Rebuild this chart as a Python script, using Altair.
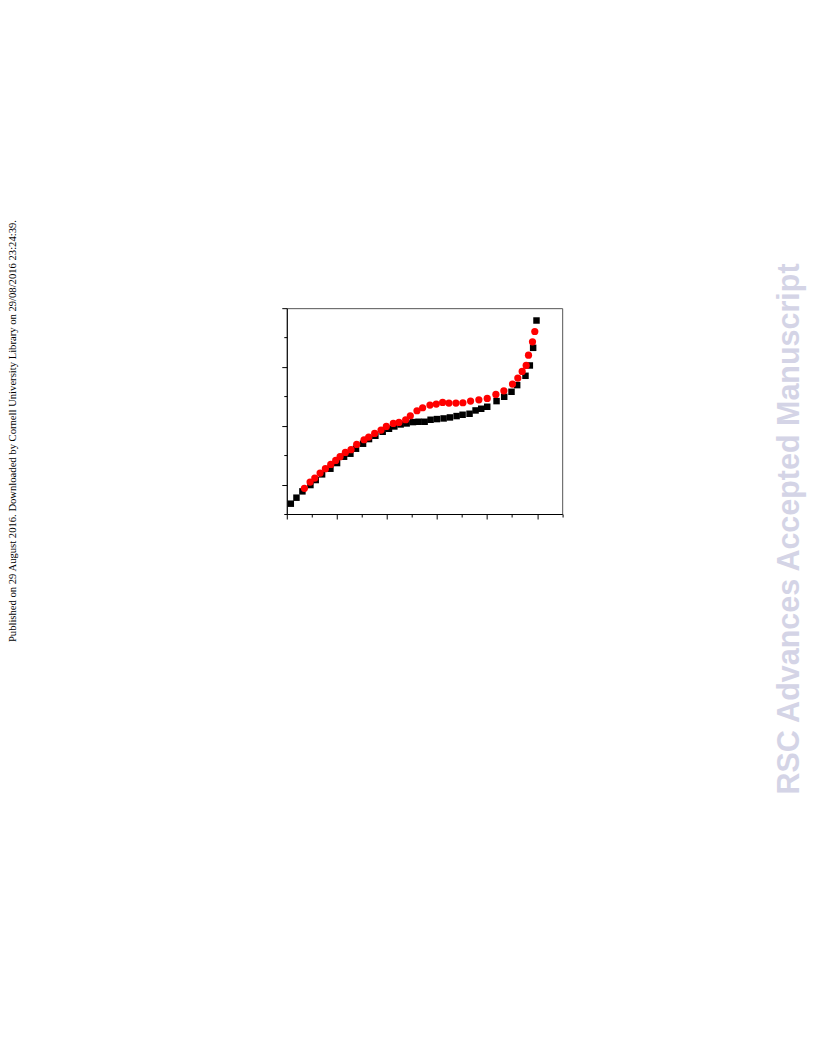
import altair as alt
import pandas as pd

# Black squares series
sq_x = [0.80, 1.93, 3.12, 4.72, 5.78, 7.05, 8.71, 10.04, 11.44, 12.70,
        13.83, 15.23, 16.42, 17.69, 19.15, 20.41, 21.48, 22.74, 23.94, 25.20,
        26.33, 27.53, 28.72, 29.99, 31.32, 32.58, 33.91, 35.11, 36.50, 37.70,
        38.83, 40.03, 41.89, 43.42, 44.88, 46.01, 47.67, 48.54, 49.20, 49.87]
sq_y = [0.351, 0.555, 0.770, 0.985, 1.155, 1.348, 1.540, 1.733, 1.948, 2.050,
        2.220, 2.390, 2.548, 2.661, 2.797, 2.899, 2.978, 3.046, 3.080, 3.126,
        3.137, 3.137, 3.205, 3.228, 3.250, 3.284, 3.330, 3.375, 3.409, 3.522,
        3.579, 3.647, 3.839, 3.986, 4.156, 4.383, 4.700, 5.051, 5.651, 6.580]

# Red circles series
ci_x = [3.52, 4.65, 5.59, 6.65, 7.71, 8.78, 9.77, 10.64, 11.70, 12.83,
        13.96, 15.43, 16.36, 17.55, 18.82, 19.88, 21.28, 22.41, 23.74, 24.67,
        26.00, 27.13, 28.59, 29.85, 31.12, 32.38, 33.78, 35.17, 36.70, 38.36,
        40.03, 41.76, 43.35, 45.08, 46.14, 47.01, 47.81, 48.27, 49.07, 49.53]
ci_y = [0.872, 1.087, 1.223, 1.393, 1.540, 1.687, 1.823, 1.948, 2.095, 2.186,
        2.367, 2.525, 2.616, 2.741, 2.854, 2.978, 3.080, 3.114, 3.205, 3.341,
        3.511, 3.613, 3.703, 3.737, 3.794, 3.771, 3.771, 3.783, 3.839, 3.884,
        3.930, 4.066, 4.190, 4.417, 4.621, 4.847, 5.051, 5.402, 5.855, 6.206]

x_ticks = [0, 5, 10, 15, 20, 25, 30, 35, 40, 45, 50, 55]
y_ticks = [0, 1, 2, 3, 4, 5, 6, 7]

left_note = ["Published on 29 August 2016. Downloaded by Cornell University Library on 29/08/2016 23:24:39."]
right_note = ["RSC Advances Accepted Manuscript"]

sq_df = pd.DataFrame({"x": sq_x, "y": sq_y})
ci_df = pd.DataFrame({"x": ci_x, "y": ci_y})

xscale = alt.Scale(domain=[0, 55], nice=False, zero=False)
yscale = alt.Scale(domain=[0, 7], nice=False, zero=False)

xaxis = alt.Axis(values=x_ticks, labels=False, title=None, grid=False,
                 domainColor="black", domainWidth=1, tickColor="black", tickWidth=1,
                 tickSize=alt.condition("datum.value % 10 == 0", alt.value(5), alt.value(3)))
yaxis = alt.Axis(values=y_ticks, labels=False, title=None, grid=False,
                 domainColor="black", domainWidth=1, tickColor="black", tickWidth=1,
                 tickSize=alt.condition("datum.value % 2 == 1", alt.value(5), alt.value(3)))

squares = alt.Chart(sq_df).mark_point(shape="square", filled=True, color="black",
                                      size=42, opacity=1).encode(
    x=alt.X("x:Q", scale=xscale, axis=xaxis),
    y=alt.Y("y:Q", scale=yscale, axis=yaxis),
)
circles = alt.Chart(ci_df).mark_point(shape="circle", filled=True, color="#ff0000",
                                      size=52, opacity=1).encode(
    x=alt.X("x:Q", scale=xscale, axis=xaxis),
    y=alt.Y("y:Q", scale=yscale, axis=yaxis),
)

left_text = alt.Chart(pd.DataFrame({"t": left_note})).mark_text(
    angle=270, font="Liberation Serif", fontSize=10.65, color="black",
    align="center", baseline="alphabetic").encode(
    x=alt.value(-270.5), y=alt.value(123), text="t:N")

right_text = alt.Chart(pd.DataFrame({"t": right_note})).mark_text(
    angle=270, font="Liberation Sans", fontSize=30.5, fontWeight="bold", color="#d4d4e6",
    align="center", baseline="alphabetic").encode(
    x=alt.value(513), y=alt.value(221), text="t:N")

chart = alt.layer(squares, circles, left_text, right_text).properties(
    width=275.6, height=206,
    autosize="none",
    padding={"left": 279, "top": 300, "right": 246, "bottom": 520},
).configure_view(stroke="#555555", strokeWidth=1)

chart.save("out.html", embed_options={"renderer": "svg", "actions": False})
